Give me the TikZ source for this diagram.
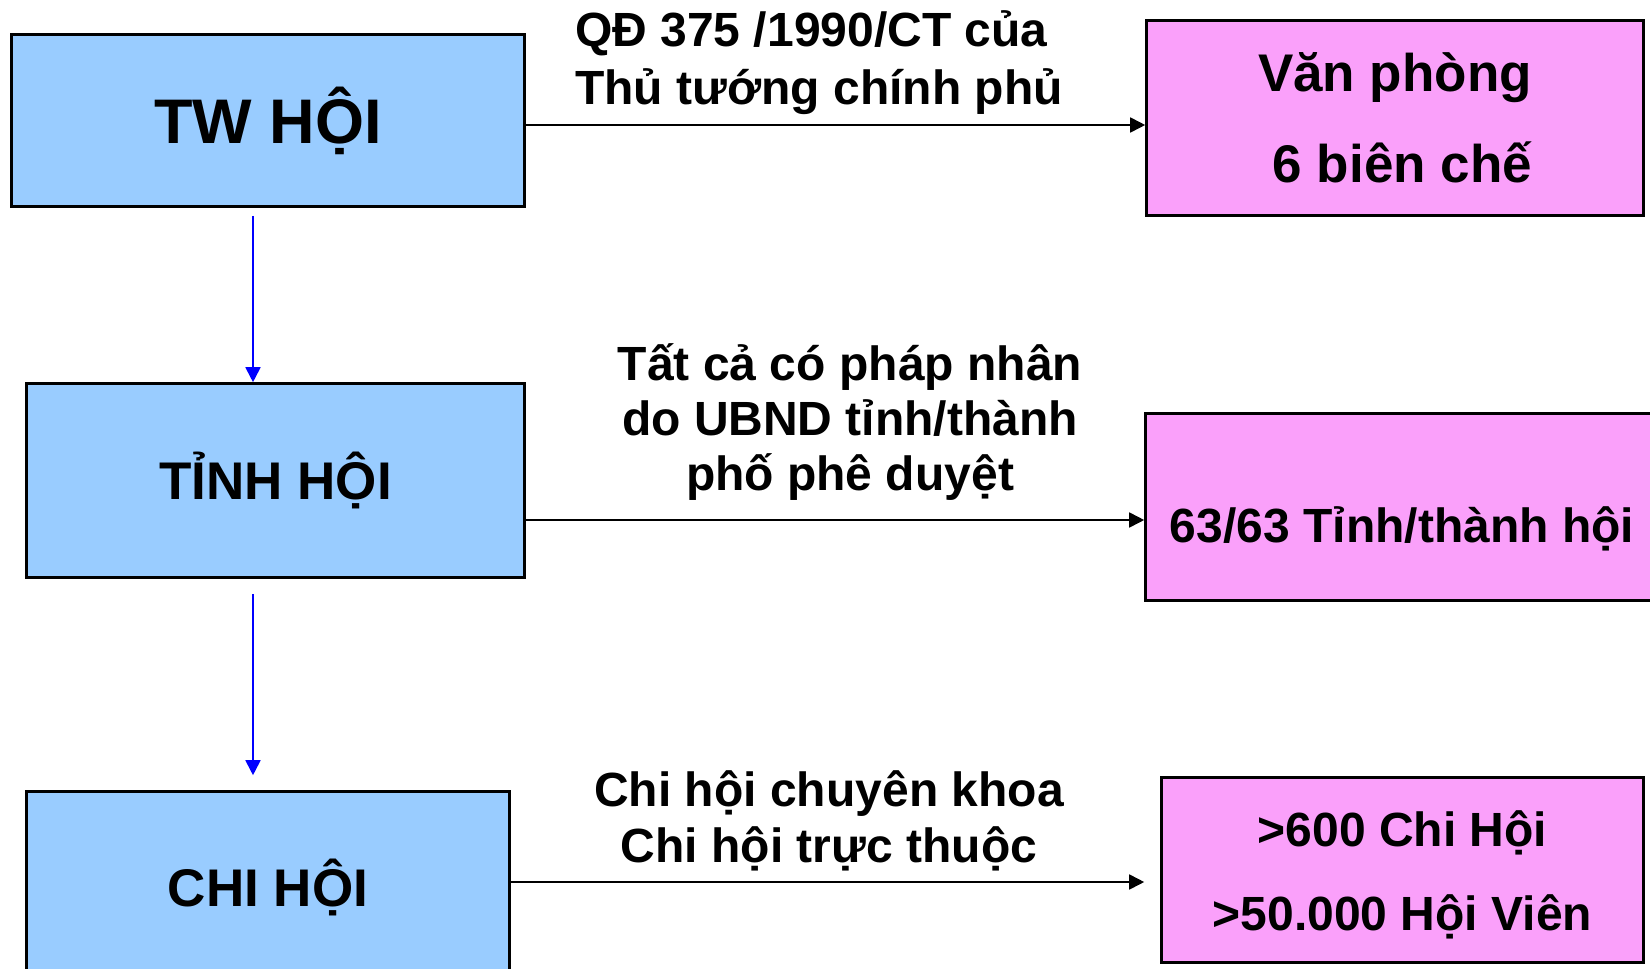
\documentclass[tikz,border=0pt]{standalone}
\usepackage{fontspec}
\setmainfont{Liberation Sans}
\usetikzlibrary{arrows.meta}
\definecolor{hoixanh}{RGB}{153,204,255}
\definecolor{hoihong}{RGB}{250,160,250}
\begin{document}
\begin{tikzpicture}[x=1pt,y=1pt]
	\tikzstyle{every node}+=[inner sep=0pt]
	\tikzstyle{hop}=[draw=black, line width=2.6pt, align=center, font=\bfseries\fontsize{53}{91}\selectfont]
	\tikzstyle{hopxanh}=[hop, fill=hoixanh]
	\tikzstyle{hophong}=[hop, fill=hoihong]
	\tikzstyle{chu}=[align=center, font=\bfseries\fontsize{48}{56}\selectfont]
	\tikzstyle{tenden}=[black, line width=1.7pt, -{Triangle[length=15pt,width=15pt]}]
	\tikzstyle{tenxanh}=[blue, line width=1.8pt, -{Triangle[length=15pt,width=15pt]}]
	\useasboundingbox (0,0) rectangle (1650,-969);
	\node [hopxanh, minimum width=513pt, minimum height=172pt, font=\bfseries\fontsize{63}{70}\selectfont] (tw) at (268,-120.5) {TW HỘI};
	\node [hophong, minimum width=497pt, minimum height=195pt] (vp) at (1395,-118) {Văn phòng\\\hspace*{0.28em}6 biên chế};
	\node [hopxanh, minimum width=498pt, minimum height=194pt] (tinh) at (275.5,-480.5) {TỈNH HỘI};
	\node [hophong, minimum width=513pt, minimum height=187pt, font=\bfseries\fontsize{48}{56}\selectfont, text height=70pt, text depth=0pt] (ttt) at (1402,-507) {63/63 Tỉnh/thành hội};
	\node [hopxanh, minimum width=483pt, minimum height=192pt] (chi) at (268,-887.5) {CHI HỘI};
	\node [hophong, minimum width=482pt, minimum height=185pt, font=\bfseries\fontsize{48}{84}\selectfont] (cho) at (1402.5,-870) {\rule{0pt}{46pt}>600 Chi Hội\\>50.000 Hội Viên};
	\node [chu, align=left, font=\bfseries\fontsize{48}{58}\selectfont] (qd) at (819,-62.5) {QĐ 375 /1990/CT của\\Thủ tướng chính phủ};
	\node [chu, font=\bfseries\fontsize{48}{55}\selectfont] (pn) at (850,-422.5) {Tất cả có pháp nhân\\do UBND tỉnh/thành\\phố phê duyệt};
	\node [chu] (ck) at (829,-820.5) {Chi hội chuyên khoa\\Chi hội trực thuộc};
	\coordinate (m1) at ([yshift=-4.5pt]tw.east);
	\coordinate (m2) at ([yshift=-39.5pt]tinh.east);
	\coordinate (m3) at ([yshift=5.5pt]chi.east);
	\coordinate (truc) at (253,0);
	\draw [tenden] (m1) -- (m1 -| vp.west);
	\draw [tenden] (m2) -- (m2 -| ttt.west);
	\draw [tenden, shorten >=16pt] (m3) -- (m3 -| cho.west);
	\draw [tenxanh, shorten <=8pt] (truc |- tw.south) -- (truc |- tinh.north);
	\draw [tenxanh, shorten <=15pt, shorten >=15pt] (truc |- tinh.south) -- (truc |- chi.north);
\end{tikzpicture}
\end{document}
